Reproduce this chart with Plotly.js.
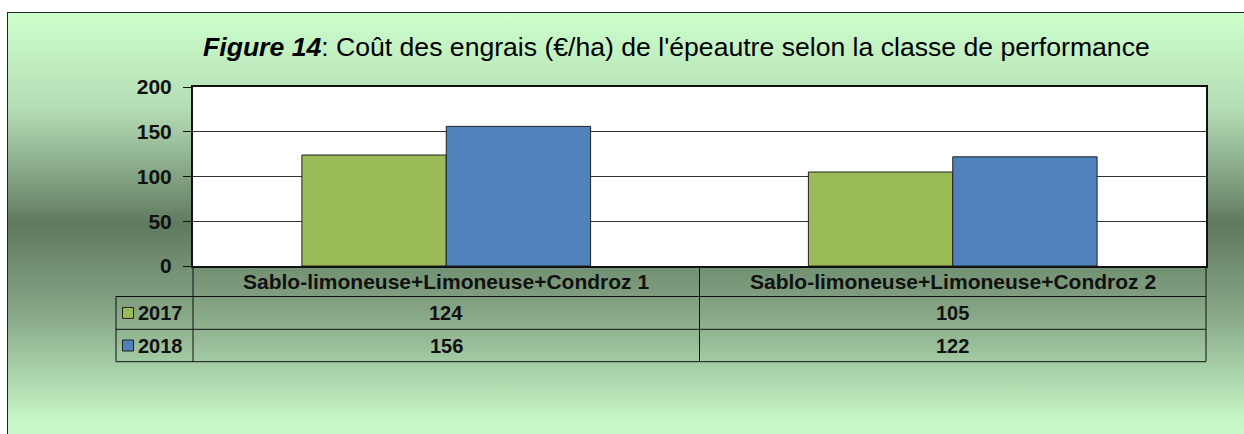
<!DOCTYPE html>
<html>
<head>
<meta charset="utf-8">
<script src="https://cdn.plot.ly/plotly-3.0.1.min.js"></script>
<style>
  html, body { margin:0; padding:0; background:#ffffff; }
  #wrap { position:relative; width:1244px; height:434px; overflow:hidden; }
  #bg { position:absolute; left:7px; top:12px; width:1260px; height:440px;
        border-left:1.5px solid #222; border-top:1.5px solid #222;
        background:linear-gradient(to bottom, #ccffcc 0%, #b4dcb4 22%, #5f7a5f 48%, #86a686 68%, #c4f4c4 92%, #ccffcc 100%); }
  #chart { position:absolute; left:0; top:0; width:1244px; height:434px; }
</style>
</head>
<body>
<div id="wrap"><div id="bg"></div><div id="chart"></div></div>
<script>
const categories = ["Sablo-limoneuse+Limoneuse+Condroz 1", "Sablo-limoneuse+Limoneuse+Condroz 2"];
const seriesNames = ["2017", "2018"];
const values2017 = [124, 105];
const values2018 = [156, 122];
const seriesColors = ["#9bbb59", "#4f81bd"];
const yTicks = [0, 50, 100, 150, 200];
const titleText = "<b><i>Figure 14</i></b>: Coût des engrais (€/ha) de l'épeautre selon la classe de performance";

const W = 1244, H = 434;
const L = 193, R = 1206, T = 87, B = 266;
const px2x = p => (p - L) / (R - L);
const px2y = p => (B - p) / (B - T);

const FONT = "Liberation Sans, Arial, sans-serif";
const fsNum = 20, fsHead = 21, fsTick = 21, fsTitle = 26.6;

const seriesValues = [values2017, values2018];
const traces = seriesValues.map((v, i) => ({
  type: "bar", x: categories, y: v, name: seriesNames[i],
  marker: { color: seriesColors[i], line: { color: "#222", width: 1 } },
  hoverinfo: "skip"
}));

// table geometry (pixels)
const headTop = 266, row1Top = 296.5, row2Top = 329.3, tableBottom = 361.7;
const legLeft = 116, midX = (L + R) / 2;
const rowTops = [row1Top, row2Top, tableBottom];

const shapes = [];
const line = (x0, y0, x1, y1) => shapes.push({ type: "line", xref: "paper", yref: "paper",
  x0: px2x(x0), y0: px2y(y0), x1: px2x(x1), y1: px2y(y1), line: { color: "#111", width: 1 } });
line(legLeft, row1Top, R, row1Top);
line(legLeft, row2Top, R, row2Top);
line(legLeft, tableBottom, R, tableBottom);
line(legLeft, row1Top, legLeft, tableBottom);
line(L, headTop, L, tableBottom);
line(midX, headTop, midX, tableBottom);
line(R, headTop, R, tableBottom);

const annotations = [];
annotations.push({ xref: "paper", yref: "paper", x: px2x(676.5), y: px2y(47), xanchor: "center", yanchor: "middle",
  text: titleText, showarrow: false, font: { family: FONT, size: fsTitle, color: "#000" } });

categories.forEach((c, ci) => {
  const cx = L + (R - L) * (ci + 0.5) / categories.length;
  annotations.push({ xref: "paper", yref: "paper", x: px2x(cx), y: px2y((headTop + row1Top) / 2),
    xanchor: "center", yanchor: "middle", text: "<b>" + c + "</b>", showarrow: false,
    font: { family: FONT, size: fsHead, color: "#111" } });
  seriesValues.forEach((v, si) => {
    annotations.push({ xref: "paper", yref: "paper", x: px2x(cx), y: px2y((rowTops[si] + rowTops[si + 1]) / 2),
      xanchor: "center", yanchor: "middle", text: "<b>" + v[ci] + "</b>", showarrow: false,
      font: { family: FONT, size: fsNum, color: "#111" } });
  });
});

seriesNames.forEach((n, si) => {
  const cy = (rowTops[si] + rowTops[si + 1]) / 2;
  shapes.push({ type: "rect", xref: "paper", yref: "paper",
    x0: px2x(122.5), x1: px2x(133.5), y0: px2y(cy - 5.5), y1: px2y(cy + 5.5),
    fillcolor: seriesColors[si], line: { color: "#222", width: 1 } });
  annotations.push({ xref: "paper", yref: "paper", x: px2x(136), y: px2y(cy),
    xanchor: "left", yanchor: "middle", text: "<b>" + n + "</b>", showarrow: false,
    font: { family: FONT, size: fsNum, color: "#111" } });
});

const layout = {
  width: W, height: H,
  margin: { l: L, r: W - R, t: T, b: H - B, pad: 0 },
  paper_bgcolor: "rgba(0,0,0,0)", plot_bgcolor: "#ffffff",
  barmode: "group", bargap: 0.43, bargroupgap: 0,
  showlegend: false,
  font: { family: FONT, size: fsNum, color: "#111" },
  xaxis: { showticklabels: false, ticks: "", showline: true, linewidth: 2, linecolor: "#111", mirror: true, fixedrange: true },
  yaxis: { range: [0, 200], tickvals: yTicks, ticktext: yTicks.map(String), showgrid: true, gridcolor: "#333", gridwidth: 1,
    zeroline: false, showline: true, linewidth: 2, linecolor: "#111", mirror: true,
    ticks: "outside", ticklen: 8, tickwidth: 1, tickcolor: "#111", ticklabelstandoff: 7,
    tickfont: { family: FONT, size: fsTick, color: "#111", weight: "bold" }, fixedrange: true },
  shapes: shapes, annotations: annotations
};

Plotly.newPlot("chart", traces, layout, { displayModeBar: false, staticPlot: true });
</script>
</body>
</html>
